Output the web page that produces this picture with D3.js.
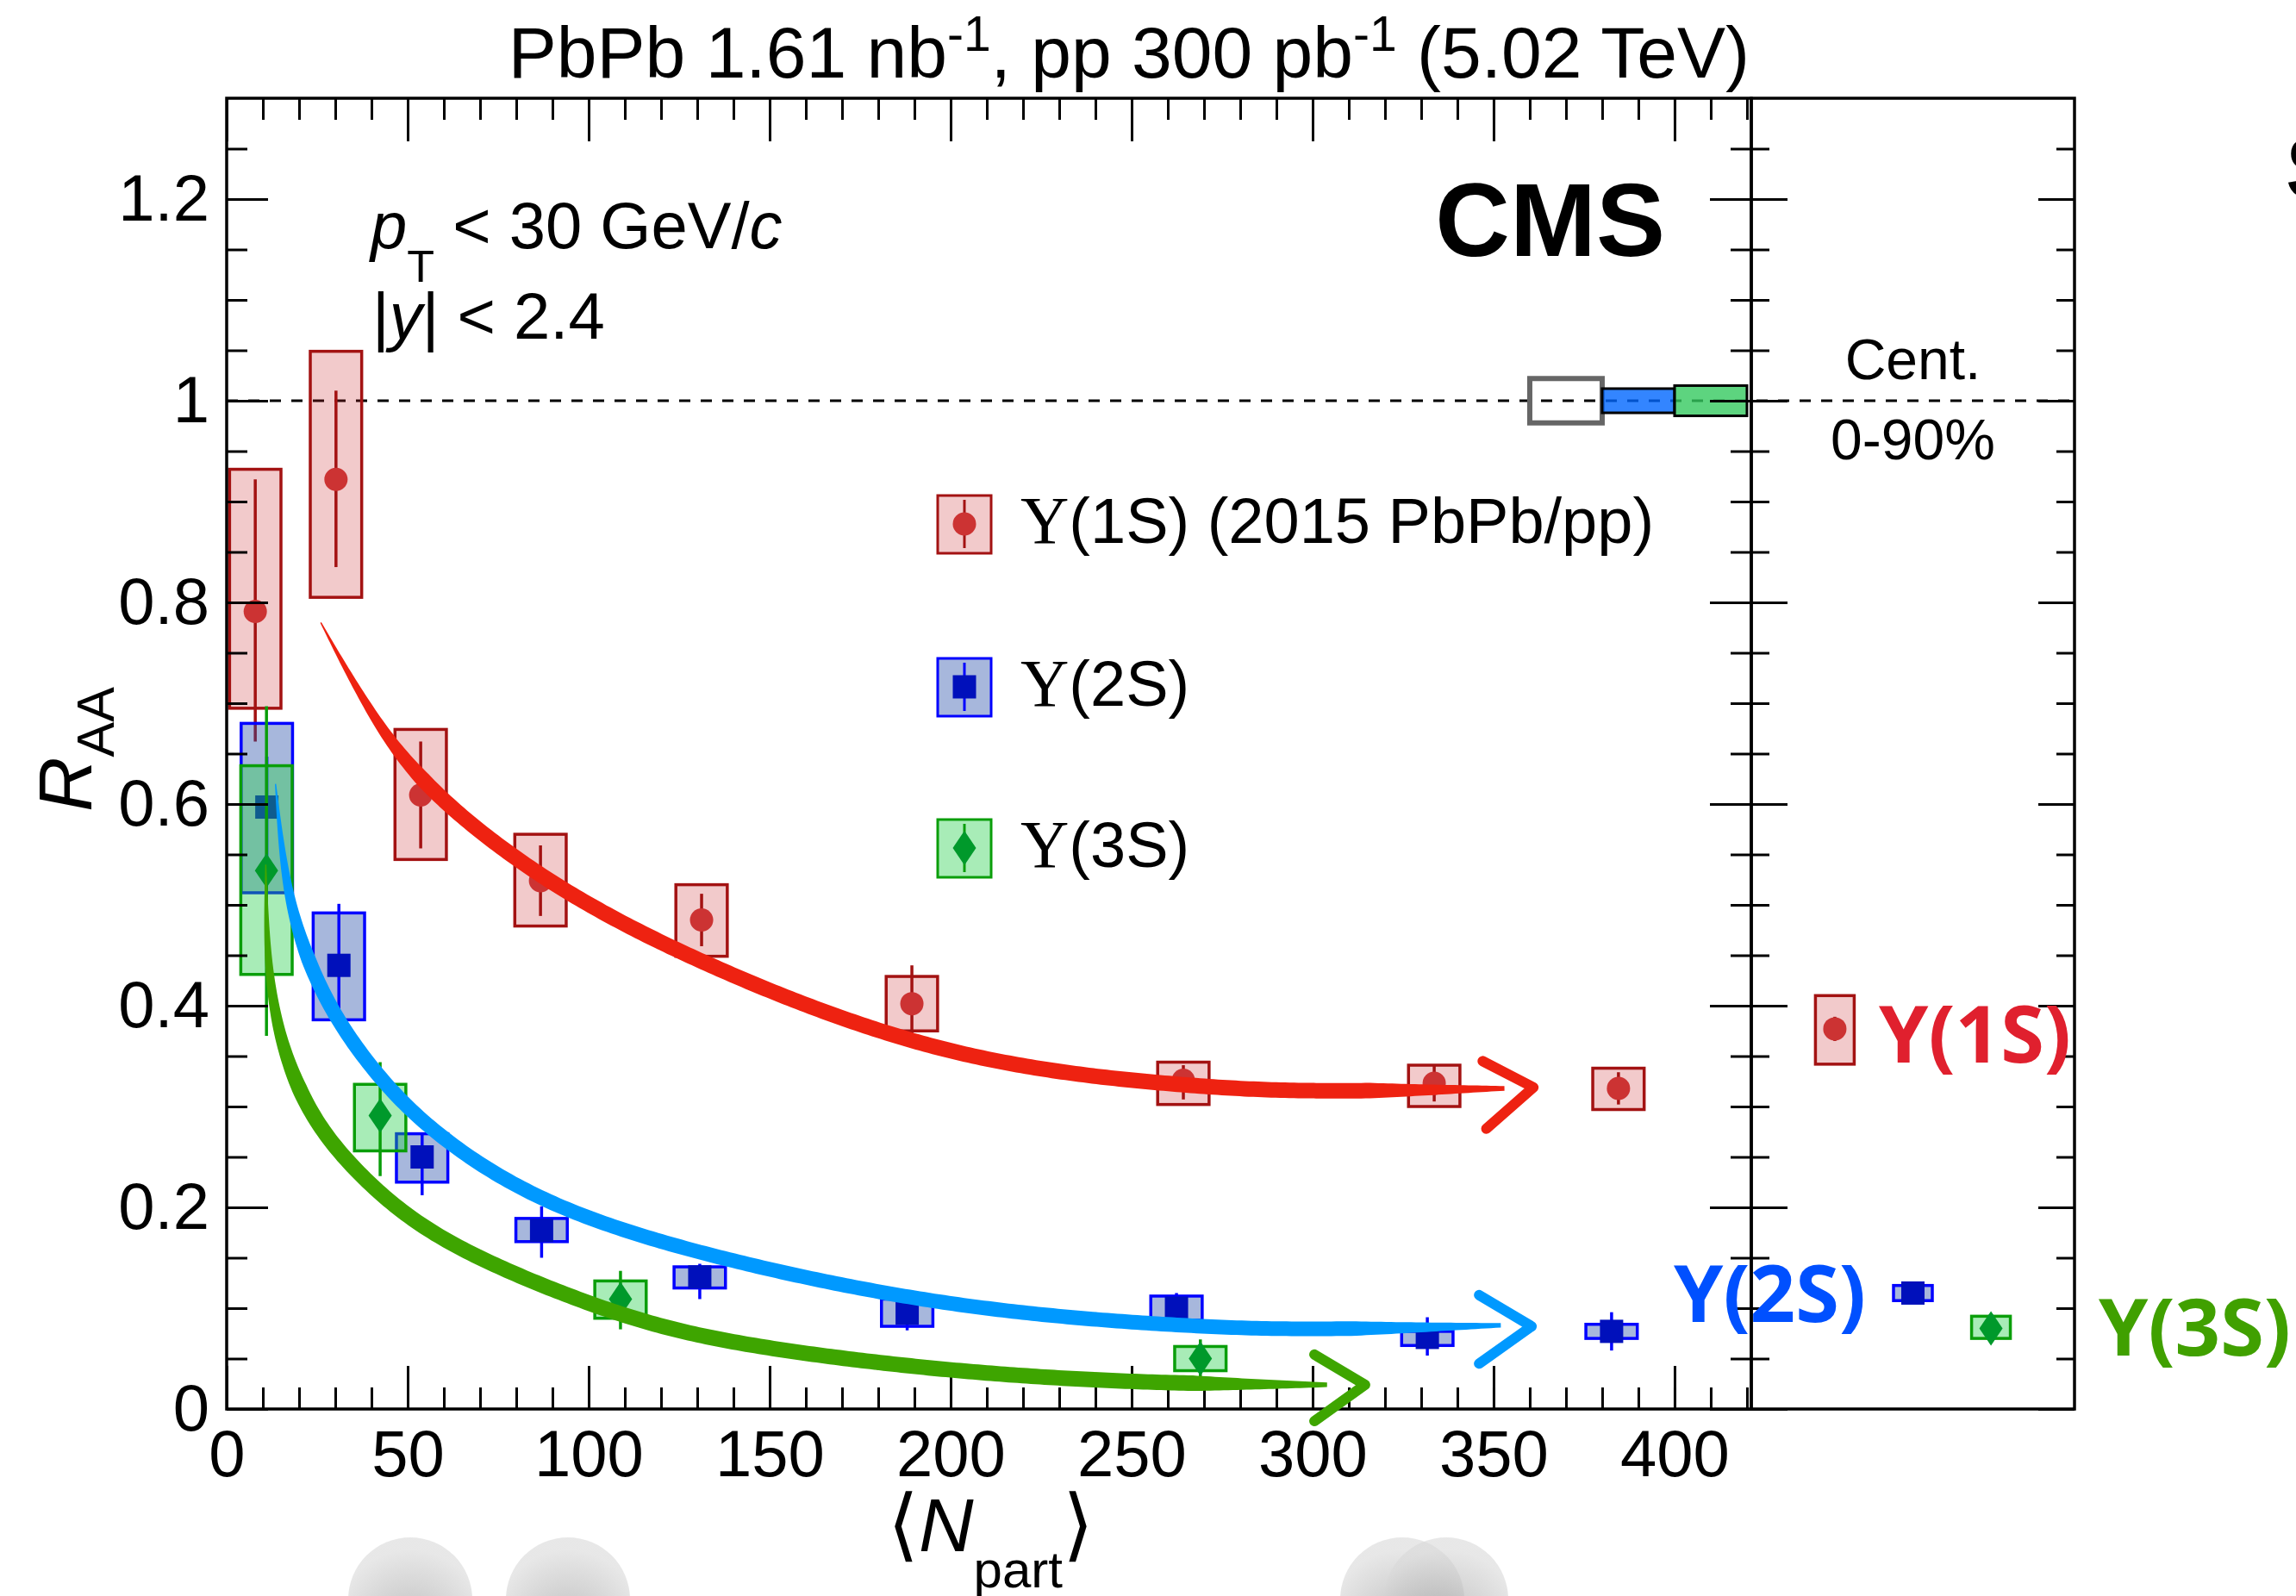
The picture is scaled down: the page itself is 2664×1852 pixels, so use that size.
<!DOCTYPE html>
<html>
<head>
<meta charset="utf-8">
<script src="https://cdn.jsdelivr.net/npm/d3@7"></script>
<style>
  body { margin: 0; background: #fff; }
  svg { display: block; }
</style>
</head>
<body>
<div id="chart"></div>
<script>
// ---- data ----
// Y(1S), 9 centrality bins
const npart1S = [7.9, 30.2, 53.6, 86.7, 131.2, 189.3, 264.3, 333.6, 384.5];
const raa1S   = [0.791, 0.922, 0.609, 0.524, 0.485, 0.402, 0.326, 0.323, 0.318];
const stat1S  = [[0.131, 0.129], [0.088, 0.087], [0.053, 0.053], [0.035, 0.035], [0.026, 0.026], [0.038, 0.038], [0.015, 0.019], [0.018, 0.018], [0.016, 0.016]];
const syst1S  = [[0.141, 0.096], [0.127, 0.117], [0.065, 0.064], [0.046, 0.045], [0.035, 0.036], [0.027, 0.027], [0.018, 0.024], [0.018, 0.023], [0.020, 0.021]];

// Y(2S)
const npart2S = [11.1, 31.0, 54.0, 87.0, 130.7, 188.0, 262.4, 331.7, 382.6];
const raa2S   = [0.597, 0.440, 0.250, 0.177, 0.131, 0.095, 0.100, 0.071, 0.077];
const stat2S  = [[0.050, 0.050], [0.061, 0.065], [0.024, 0.038], [0.024, 0.027], [0.013, 0.022], [0.018, 0.017], [0.015, 0.014], [0.020, 0.018], [0.019, 0.019]];
const syst2S  = [[0.083, 0.085], [0.052, 0.054], [0.023, 0.025], [0.012, 0.011], [0.010, 0.011], [0.014, 0.013], [0.012, 0.012], [0.006, 0.008], [0.007, 0.007]];

// Y(3S)
const npart3S = [11.0, 42.4, 108.8, 269.0];
const raa3S   = [0.534, 0.291, 0.109, 0.050];
const stat3S  = [[0.163, 0.164], [0.053, 0.060], [0.028, 0.030], [0.019, 0.018]];
const syst3S  = [[0.104, 0.103], [0.031, 0.035], [0.018, 0.019], [0.012, 0.012]];

// centrality integrated (0-90%)
const states  = ["1S", "2S", "3S"];
const raaInt  = [0.377, 0.115, 0.080];
const statInt = [0.012, 0.010, 0.010];
const systInt = [[0.033, 0.035], [0.0075, 0.0075], [0.012, 0.010]];

// global uncertainties at RAA = 1
const globalFrom = [360, 380, 400];
const globalTo   = [380, 400, 420];
const globalUnc  = [0.022, 0.012, 0.015];

// hand-drawn trend arrows (Npart, RAA)
const trend1S = [[26, 0.78], [38, 0.70], [53, 0.62], [87, 0.523], [131, 0.44], [199, 0.345], [264, 0.320], [299, 0.314], [353, 0.318]];
const trend2S = [[13.5, 0.62], [15.5, 0.54], [19.5, 0.47], [28.4, 0.395], [42.5, 0.325], [58.8, 0.268], [86.8, 0.203], [130.7, 0.152], [199, 0.100], [262.6, 0.082], [299, 0.078], [352, 0.083]];
const trend3S = [[10.8, 0.54], [11.0, 0.46], [12.8, 0.40], [16.5, 0.345], [24.4, 0.282], [38.5, 0.224], [58.7, 0.165], [99, 0.104], [131, 0.069], [180, 0.045], [220, 0.032], [262, 0.025], [304, 0.024]];
const head1S  = [[347, 0.345], [361, 0.319], [348, 0.278]];
const head2S  = [[346, 0.113], [360.5, 0.082], [346, 0.045]];
const head3S  = [[300.5, 0.054], [314.5, 0.024], [300.5, -0.012]];

// ticks
const xTickLabels = [0, 50, 100, 150, 200, 250, 300, 350, 400];
const yTickLabels = [0, 0.2, 0.4, 0.6, 0.8, 1, 1.2];
const legendLabels = ["(1S) (2015 PbPb/pp)", "(2S)", "(3S)"];

// ---- layout ----
const W = 2664, H = 1852;
const L = 263, R = 2032, T = 114, B = 1635, R2 = 2407;

const x = d3.scaleLinear().domain([0, 421.2]).range([L, R]);
const y = d3.scaleLinear().domain([0, 1.3]).range([B, T]);
const xc = d3.scalePoint().domain(states).range([R, R2]).padding(1.07);

const boxHalf = 7.1;     // Npart units
const boxHalfInt = 22.5; // px in integrated panel

const sty = {
  "1S": { fill: "rgba(204,44,48,0.25)", line: "#a31212", bar: "#a31212", mark: "#cc3333", shape: "circle" },
  "2S": { fill: "rgba(35,75,167,0.4)", line: "#0000ff", bar: "#0000ff", mark: "#0010bb", shape: "square" },
  "3S": { fill: "rgba(37,207,75,0.4)", line: "#0a9e0a", bar: "#0a9e0a", mark: "#00992b", shape: "diamond" }
};

const svg = d3.select("#chart").append("svg")
  .attr("width", W).attr("height", H)
  .style("font-family", "'Liberation Sans', Arial, Helvetica, sans-serif");

svg.append("rect").attr("width", W).attr("height", H).attr("fill", "#fff");

// gray blobs cut off at the bottom of the image
const defs = svg.append("defs");
const rg = defs.append("radialGradient").attr("id", "blob").attr("cx", "50%").attr("cy", "70%").attr("r", "60%");
rg.append("stop").attr("offset", "0%").attr("stop-color", "#9a9a9a");
rg.append("stop").attr("offset", "100%").attr("stop-color", "#d8d8d8");
[476, 659, 1627, 1678].forEach(cx => {
  svg.append("circle").attr("cx", cx).attr("cy", 1856).attr("r", 72)
    .attr("fill", "url(#blob)").attr("opacity", 0.6);
});

// dashed unity line
svg.append("line")
  .attr("x1", L).attr("x2", R2).attr("y1", y(1)).attr("y2", y(1))
  .attr("stroke", "#000").attr("stroke-width", 3).attr("stroke-dasharray", "13,12");

// global uncertainty boxes
const globStyle = [
  { fill: "none", stroke: "#666", sw: 6 },
  { fill: "rgba(0,102,255,0.8)", stroke: "#000", sw: 3 },
  { fill: "rgba(52,201,95,0.8)", stroke: "#000", sw: 3 }
];
globalUnc.forEach((u, i) => {
  svg.append("rect")
    .attr("x", x(globalFrom[i])).attr("width", x(globalTo[i]) - x(globalFrom[i]))
    .attr("y", y(1 + u)).attr("height", y(1 - u) - y(1 + u))
    .attr("fill", globStyle[i].fill).attr("stroke", globStyle[i].stroke)
    .attr("stroke-width", globStyle[i].sw);
});

function marker(g, cx, cy, s) {
  if (s.shape === "circle") {
    g.append("circle").attr("cx", cx).attr("cy", cy).attr("r", 13.5).attr("fill", s.mark);
  } else if (s.shape === "square") {
    g.append("rect").attr("x", cx - 13.5).attr("y", cy - 13.5).attr("width", 27).attr("height", 27).attr("fill", s.mark);
  } else {
    g.append("path").attr("d", `M${cx},${cy - 20}L${cx + 13.5},${cy}L${cx},${cy + 20}L${cx - 13.5},${cy}Z`).attr("fill", s.mark);
  }
}

function point(g, cx, half, v, st, sy, s) {
  g.append("rect")
    .attr("x", cx - half).attr("width", 2 * half)
    .attr("y", y(v + sy[0])).attr("height", y(v - sy[1]) - y(v + sy[0]))
    .attr("fill", s.fill).attr("stroke", s.line).attr("stroke-width", 3.5);
  g.append("line")
    .attr("x1", cx).attr("x2", cx).attr("y1", y(v + st[0])).attr("y2", y(v - st[1]))
    .attr("stroke", s.bar).attr("stroke-width", 3.5);
  marker(g, cx, y(v), s);
}

function series(np, raa, stat, syst, key) {
  const g = svg.append("g");
  np.forEach((n, i) => {
    const cx = x(n), half = x(n + boxHalf) - x(n);
    point(g, cx, half, raa[i], stat[i], syst[i], sty[key]);
  });
}
series(npart1S, raa1S, stat1S, syst1S, "1S");
series(npart2S, raa2S, stat2S, syst2S, "2S");
series(npart3S, raa3S, stat3S, syst3S, "3S");

// integrated panel
const gInt = svg.append("g");
states.forEach((s, i) => {
  point(gInt, xc(s), boxHalfInt, raaInt[i], [statInt[i], statInt[i]], systInt[i], sty[s]);
});

// ---- axes and frames ----
function styleAxis(g) {
  g.select(".domain").remove();
  g.selectAll("line").attr("stroke", "#000").attr("stroke-width", 3);
}
const xMinor = d3.range(10, 421, 10);
const yMinor = d3.range(0.05, 1.3, 0.05);
const yMajor = yTickLabels;

svg.append("g").attr("transform", `translate(0,${B})`)
  .call(d3.axisTop(x).tickValues(xMinor).tickSize(25).tickFormat("")).call(styleAxis);
svg.append("g").attr("transform", `translate(0,${B})`)
  .call(d3.axisTop(x).tickValues(xTickLabels).tickSize(50).tickFormat("")).call(styleAxis);
svg.append("g").attr("transform", `translate(0,${T})`)
  .call(d3.axisBottom(x).tickValues(xMinor).tickSize(25).tickFormat("")).call(styleAxis);
svg.append("g").attr("transform", `translate(0,${T})`)
  .call(d3.axisBottom(x).tickValues(xTickLabels).tickSize(50).tickFormat("")).call(styleAxis);

const xLab = svg.append("g").attr("transform", `translate(0,${B})`)
  .call(d3.axisBottom(x).tickValues(xTickLabels).tickSize(0).tickPadding(24).tickFormat(d3.format("d")));
xLab.select(".domain").remove();
xLab.selectAll("text").attr("font-size", 76).attr("font-family", "'Liberation Sans', Arial, sans-serif").attr("fill", "#000");

// y ticks: left axis, main right edge (both sides), panel right edge
[[L, "R", 24, 48], [R, "L", 24, 48], [R, "R", 21, 42], [R2, "L", 21, 42]].forEach(([px, side, mn, mj]) => {
  const ax = side === "R" ? d3.axisRight : d3.axisLeft;
  svg.append("g").attr("transform", `translate(${px},0)`)
    .call(ax(y).tickValues(yMinor).tickSize(mn).tickFormat("")).call(styleAxis);
  svg.append("g").attr("transform", `translate(${px},0)`)
    .call(ax(y).tickValues(yMajor).tickSize(mj).tickFormat("")).call(styleAxis);
});
const yLab = svg.append("g").attr("transform", `translate(${L},0)`)
  .call(d3.axisLeft(y).tickValues(yTickLabels).tickSize(0).tickPadding(20).tickFormat(d3.format("~g")));
yLab.select(".domain").remove();
yLab.selectAll("text").attr("font-size", 76).attr("font-family", "'Liberation Sans', Arial, sans-serif").attr("fill", "#000");

svg.append("rect").attr("x", L).attr("y", T).attr("width", R - L).attr("height", B - T)
  .attr("fill", "none").attr("stroke", "#000").attr("stroke-width", 3.5);
svg.append("rect").attr("x", R).attr("y", T).attr("width", R2 - R).attr("height", B - T)
  .attr("fill", "none").attr("stroke", "#000").attr("stroke-width", 3.5);

// ---- legend ----
const legY = [608, 797, 984];
states.forEach((s, i) => {
  const g = svg.append("g");
  const cx = 1119, cy = legY[i], st = sty[s];
  g.append("rect").attr("x", cx - 31).attr("y", cy - 33).attr("width", 62).attr("height", 67)
    .attr("fill", st.fill).attr("stroke", st.line).attr("stroke-width", 3);
  g.append("line").attr("x1", cx).attr("x2", cx).attr("y1", cy - 28).attr("y2", cy + 28)
    .attr("stroke", st.bar).attr("stroke-width", 3);
  marker(g, cx, cy, st);
  const t = g.append("text").attr("x", 1184).attr("y", cy + 22).attr("font-size", 74).attr("fill", "#000");
  t.append("tspan").attr("font-family", "'Liberation Serif', 'Times New Roman', serif").attr("font-size", 78).text("\u03A5");
  t.append("tspan").text(legendLabels[i]);
});

// ---- trend arrows ----
const lineGen = d3.line().x(d => x(d[0])).y(d => y(d[1])).curve(d3.curveBasis);
function brush(pts, head, color, wMax, t0, t1) {
  const tmp = svg.append("path").attr("d", lineGen(pts)).attr("fill", "none");
  const node = tmp.node(), len = node.getTotalLength();
  const n = 300, left = [], right = [];
  for (let i = 0; i <= n; i++) {
    const s = i / n, at = s * len;
    const p = node.getPointAtLength(at);
    const a = node.getPointAtLength(Math.max(0, at - 2)), b = node.getPointAtLength(Math.min(len, at + 2));
    let dx = b.x - a.x, dy = b.y - a.y;
    const m = Math.hypot(dx, dy) || 1; dx /= m; dy /= m;
    const rise = Math.min(1, 0.08 + 0.92 * s / t0);
    const fall = s < t1 ? 1 : 0.3 + 0.7 * (1 - s) / (1 - t1);
    const hw = wMax * rise * fall / 2;
    left.push([p.x - dy * hw, p.y + dx * hw]);
    right.push([p.x + dy * hw, p.y - dx * hw]);
  }
  tmp.remove();
  svg.append("path").attr("d", d3.line()(left.concat(right.reverse())) + "Z").attr("fill", color);
  svg.append("path")
    .attr("d", d3.line().x(d => x(d[0])).y(d => y(d[1]))(head))
    .attr("fill", "none").attr("stroke", color).attr("stroke-width", 12)
    .attr("stroke-linejoin", "round").attr("stroke-linecap", "round");
}
brush(trend1S, head1S, "#ee2211", 18, 0.14, 0.9);
brush(trend2S, head2S, "#0099ff", 17, 0.12, 0.9);
brush(trend3S, head3S, "#3ea500", 18, 0.17, 0.9);

// ---- texts ----
const title = svg.append("text").attr("x", 2030).attr("y", 90).attr("text-anchor", "end")
  .attr("font-size", 84).attr("fill", "#000");
title.append("tspan").text("PbPb 1.61 nb");
title.append("tspan").attr("dy", -31).attr("font-size", 57).text("-1");
title.append("tspan").attr("dy", 31).text(", pp 300 pb");
title.append("tspan").attr("dy", -31).attr("font-size", 57).text("-1");
title.append("tspan").attr("dy", 31).text(" (5.02 TeV)");

svg.append("text").attr("x", 1932).attr("y", 297).attr("text-anchor", "end")
  .attr("font-size", 120).attr("font-weight", "bold").attr("fill", "#000").text("CMS");

const pt = svg.append("text").attr("x", 430).attr("y", 288).attr("font-size", 76).attr("fill", "#000");
pt.append("tspan").attr("font-style", "italic").text("p");
pt.append("tspan").attr("dy", 39).attr("font-size", 52).text("T");
pt.append("tspan").attr("dy", -39).text(" < 30 GeV/");
pt.append("tspan").attr("font-style", "italic").text("c");

const yr = svg.append("text").attr("x", 432).attr("y", 393).attr("font-size", 76).attr("fill", "#000");
yr.append("tspan").text("|");
yr.append("tspan").attr("font-style", "italic").text("y");
yr.append("tspan").text("| < 2.4");

const cmid = (R + R2) / 2;
svg.append("text").attr("x", cmid).attr("y", 440).attr("text-anchor", "middle").attr("font-size", 66).text("Cent.");
svg.append("text").attr("x", cmid).attr("y", 533).attr("text-anchor", "middle").attr("font-size", 66).text("0-90%");

// axis titles
const xt = svg.append("text").attr("x", 1030).attr("y", 1800).attr("font-size", 88).attr("fill", "#000");
xt.append("tspan").attr("font-family", "'DejaVu Sans', sans-serif").attr("font-weight", 200).attr("font-size", 92).text("\u27E8");
xt.append("tspan").attr("font-style", "italic").text("N");
xt.append("tspan").attr("dy", 42).attr("font-size", 60).text("part");
xt.append("tspan").attr("dy", -42).attr("font-family", "'DejaVu Sans', sans-serif").attr("font-weight", 200).attr("font-size", 92).text("\u27E9");

const yt = svg.append("text").attr("transform", "translate(106,942) rotate(-90)")
  .attr("font-size", 88).attr("fill", "#000");
yt.append("tspan").attr("font-style", "italic").text("R");
yt.append("tspan").attr("dy", 26).attr("font-size", 61).text("AA");

// state labels on the right
const stateLabels = [
  { t: "\u03A5(1S)", x: 2180, y: 1233, c: "#e0202e" },
  { t: "\u03A5(2S)", x: 1942, y: 1534, c: "#0050ff" },
  { t: "\u03A5(3S)", x: 2435, y: 1573, c: "#40a000" }
];
stateLabels.forEach(d => {
  svg.append("text").attr("x", d.x).attr("y", d.y)
    .attr("font-family", "'Open Sans', 'Noto Sans', sans-serif").attr("font-weight", "bold")
    .attr("font-size", 92).attr("fill", d.c).text(d.t);
});

// cut-off glyph at the top right edge
svg.append("text").attr("x", 2652).attr("y", 230).attr("font-size", 102).attr("font-weight", "bold").text("S");
</script>
</body>
</html>
